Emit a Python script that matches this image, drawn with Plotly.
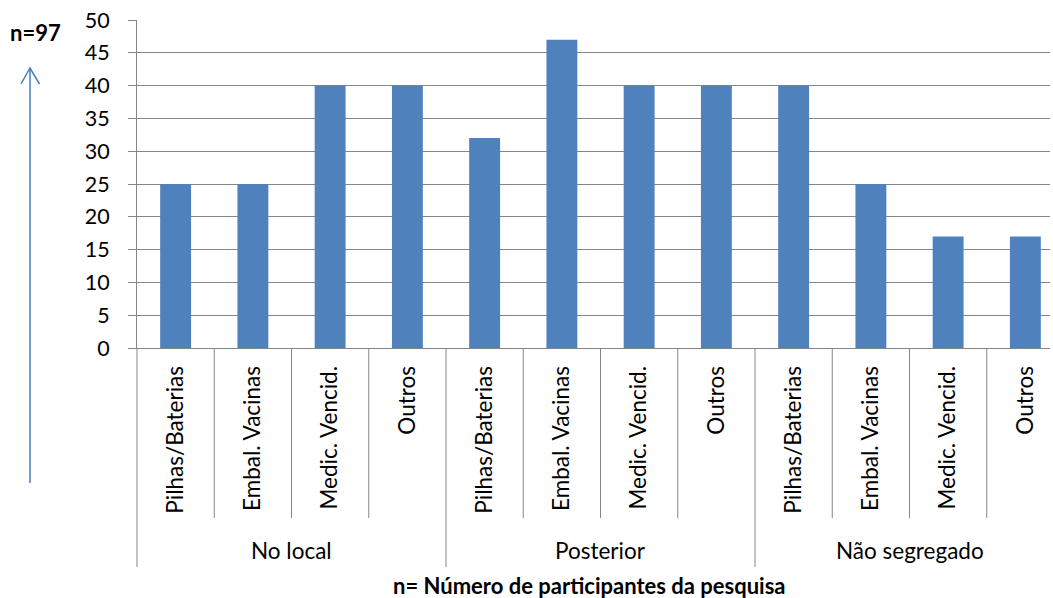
import plotly.graph_objects as go

# ---- data ----
groups = ["No local", "Posterior", "Não segregado"]
items = ["Pilhas/Baterias", "Embal. Vacinas", "Medic. Vencid.", "Outros"]
values_no_local = [25, 25, 40, 40]
values_posterior = [32, 47, 40, 40]
values_nao_segregado = [40, 25, 17, 17]
y_ticks = [0, 5, 10, 15, 20, 25, 30, 35, 40, 45, 50]

labels = items * len(groups)
values = values_no_local + values_posterior + values_nao_segregado
xpos = list(range(len(values)))

# ---- layout geometry ----
W, H = 1053, 598
L, R, T, B = 137, 3, 20, 250
pw = W - L - R
ph = H - T - B
cat_w = 77.25
xmax = -0.5 + pw / cat_w

FONT = "Lato"
GRID = "#868686"
BAR = "#4F81BD"
ARROW = "#4A7EBB"


def py2paper(py):
    return (H - B - py) / ph


def px2paper(px):
    return (px - L) / pw


fig = go.Figure()
fig.add_trace(go.Bar(x=xpos, y=values, marker_color=BAR, marker_line_width=0,
                     hoverinfo="skip"))

shapes = []
n_items = len(items)
for k in range(1, len(values)):
    long = (k % n_items == 0)
    shapes.append(dict(type="line", xref="x", yref="paper",
                       x0=k - 0.5, x1=k - 0.5,
                       y0=0, y1=py2paper(567 if long else 518),
                       line=dict(color=GRID, width=1)))
# left boundary extension
shapes.append(dict(type="line", xref="paper", yref="paper",
                   x0=0, x1=0, y0=0, y1=py2paper(567),
                   line=dict(color=GRID, width=1)))

# arrow on the left (decoration)
ax0 = px2paper(30)
shapes.append(dict(type="line", xref="paper", yref="paper",
                   x0=ax0, x1=ax0, y0=py2paper(483), y1=py2paper(68),
                   line=dict(color=ARROW, width=1.5)))
shapes.append(dict(type="path", xref="paper", yref="paper",
                   path="M {a},{b} L {c},{d} L {e},{f}".format(
                       a=px2paper(21), b=py2paper(84),
                       c=px2paper(30), d=py2paper(68),
                       e=px2paper(39.5), f=py2paper(84)),
                   line=dict(color=ARROW, width=1.5)))

annotations = []
for gi, g in enumerate(groups):
    annotations.append(dict(text=g, xref="x", yref="paper",
                            x=gi * n_items + (n_items - 1) / 2, y=py2paper(550),
                            xanchor="center", yanchor="middle", showarrow=False,
                            font=dict(family=FONT, size=22.5, color="#000000")))
annotations.append(dict(text="<b>n= Número de participantes da pesquisa</b>",
                        xref="paper", yref="paper", x=px2paper(589), y=py2paper(585),
                        xanchor="center", yanchor="middle", showarrow=False,
                        font=dict(family=FONT, size=22, color="#000000")))
annotations.append(dict(text="<b>n=97</b>", xref="paper", yref="paper",
                        x=px2paper(35), y=py2paper(32),
                        xanchor="center", yanchor="middle", showarrow=False,
                        font=dict(family=FONT, size=22, color="#000000")))

fig.update_layout(
    width=W, height=H,
    margin=dict(l=L, r=R, t=T, b=B, pad=0),
    paper_bgcolor="white", plot_bgcolor="white",
    showlegend=False,
    bargap=0.6,
    font=dict(family=FONT, size=22, color="#000000"),
    xaxis=dict(range=[-0.5, xmax], tickmode="array", tickvals=xpos, ticktext=labels,
               tickangle=-90, showgrid=False, zeroline=False, showline=True,
               linecolor=GRID, linewidth=1, ticks="", ticklabelstandoff=8,
               tickfont=dict(family=FONT, size=22.5, color="#000000")),
    yaxis=dict(range=[0, 50], tickmode="array", tickvals=y_ticks,
               showgrid=True, gridcolor=GRID, gridwidth=1, zeroline=False,
               showline=True, linecolor=GRID, linewidth=1,
               ticks="outside", ticklen=8, tickcolor=GRID, tickwidth=1,
               ticklabelstandoff=14,
               tickfont=dict(family=FONT, size=21.5, color="#000000")),
    shapes=shapes,
    annotations=annotations,
)

fig.write_html("out.html")
